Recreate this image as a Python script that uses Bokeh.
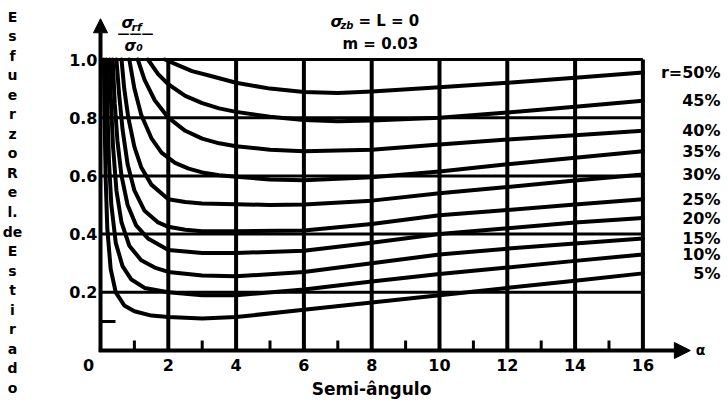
import math
from bokeh.plotting import figure
from bokeh.models import Range1d, Label, Arrow, NormalHead, ColumnDataSource
from bokeh.core.properties import value
from bokeh.embed import file_html
from bokeh.resources import INLINE

# ---------------- data ----------------
X_TICKS = [0, 2, 4, 6, 8, 10, 12, 14, 16]
X_TICK_LABELS = ["0", "2", "4", "6", "8", "10", "12", "14", "16"]
X_MINOR = [1, 3, 5, 7, 9, 11, 13, 15]
Y_TICKS = [0.2, 0.4, 0.6, 0.8, 1.0]
Y_TICK_LABELS = ["0.2", "0.4", "0.6", "0.8", "1.0"]
Y_MINOR = [0.1]

REDUCTIONS = ["5%", "10%", "15%", "20%", "25%", "30%", "35%", "40%", "45%", "r=50%"]

x_r05 = [0.1, 0.12, 0.15, 0.2, 0.3, 0.45, 0.7, 1.0, 1.5, 2, 3, 4, 6, 8, 10, 12, 14, 16]
y_r05 = [1.0, 0.8, 0.6, 0.42, 0.28, 0.2, 0.155, 0.135, 0.12, 0.115, 0.11, 0.115, 0.14, 0.165, 0.19, 0.215, 0.24, 0.265]

x_r10 = [0.18, 0.2, 0.25, 0.32, 0.45, 0.65, 0.9, 1.3, 2, 3, 4, 6, 8, 10, 12, 14, 16]
y_r10 = [1.0, 0.85, 0.65, 0.5, 0.37, 0.29, 0.245, 0.215, 0.2, 0.19, 0.19, 0.21, 0.237, 0.263, 0.285, 0.308, 0.33]

x_r15 = [0.27, 0.3, 0.37, 0.47, 0.62, 0.85, 1.2, 1.6, 2, 3, 4, 6, 8, 10, 12, 14, 16]
y_r15 = [1.0, 0.88, 0.7, 0.55, 0.44, 0.36, 0.31, 0.285, 0.27, 0.258, 0.255, 0.27, 0.3, 0.33, 0.35, 0.368, 0.385]

x_r20 = [0.36, 0.42, 0.5, 0.62, 0.8, 1.05, 1.4, 2, 3, 4, 6, 8, 10, 12, 14, 16]
y_r20 = [1.0, 0.85, 0.72, 0.6, 0.5, 0.43, 0.385, 0.345, 0.335, 0.335, 0.343, 0.37, 0.40, 0.42, 0.44, 0.455]

x_r25 = [0.47, 0.55, 0.65, 0.8, 1.0, 1.3, 1.7, 2, 2.5, 3, 4, 6, 8, 10, 12, 14, 16]
y_r25 = [1.0, 0.88, 0.76, 0.64, 0.55, 0.48, 0.44, 0.425, 0.415, 0.41, 0.41, 0.412, 0.435, 0.465, 0.483, 0.502, 0.52]

x_r30 = [0.62, 0.7, 0.82, 1.0, 1.2, 1.5, 2, 2.5, 3, 4, 5, 6, 8, 10, 12, 14, 16]
y_r30 = [1.0, 0.9, 0.8, 0.7, 0.63, 0.57, 0.52, 0.51, 0.505, 0.503, 0.5, 0.502, 0.515, 0.54, 0.562, 0.584, 0.605]

x_r35 = [0.85, 1.0, 1.2, 1.5, 1.8, 2.2, 2.6, 3, 3.5, 4, 5, 6, 8, 10, 12, 14, 16]
y_r35 = [1.0, 0.9, 0.81, 0.73, 0.68, 0.645, 0.625, 0.612, 0.602, 0.597, 0.588, 0.585, 0.595, 0.615, 0.64, 0.662, 0.685]

x_r40 = [1.1, 1.3, 1.6, 2, 2.5, 3, 3.5, 4, 5, 6, 8, 10, 12, 14, 16]
y_r40 = [1.0, 0.93, 0.86, 0.8, 0.755, 0.728, 0.712, 0.702, 0.69, 0.685, 0.69, 0.708, 0.725, 0.74, 0.755]

x_r45 = [1.4, 1.7, 2, 2.5, 3, 3.5, 4, 5, 6, 7, 8, 10, 12, 14, 16]
y_r45 = [1.0, 0.95, 0.915, 0.875, 0.85, 0.832, 0.82, 0.803, 0.792, 0.788, 0.79, 0.80, 0.818, 0.838, 0.858]

x_r50 = [1.9, 2.3, 2.7, 3.2, 4, 5, 6, 7, 8, 10, 12, 14, 16]
y_r50 = [1.0, 0.98, 0.96, 0.945, 0.92, 0.9, 0.888, 0.885, 0.89, 0.905, 0.92, 0.937, 0.955]

CURVES_X = [x_r05, x_r10, x_r15, x_r20, x_r25, x_r30, x_r35, x_r40, x_r45, x_r50]
CURVES_Y = [y_r05, y_r10, y_r15, y_r20, y_r25, y_r30, y_r35, y_r40, y_r45, y_r50]

Y_LABEL = "E\ns\nf\nu\ne\nr\nz\no\nR\ne\nl.\nde\nE\ns\nt\ni\nr\na\nd\no"
X_LABEL = "Semi-ângulo"

# ---------------- layout ----------------
FIG_W, FIG_H = 728, 404
PX_X = 33.9     # pixels per x unit
PX_Y = 291.0    # pixels per y unit
ORIG_X = 100    # canvas pixel of x = 0
ORIG_Y = 350    # canvas pixel of y = 0 (from top)
x_start = -ORIG_X / PX_X
x_end = x_start + FIG_W / PX_X
y_end = ORIG_Y / PX_Y
y_start = y_end - FIG_H / PX_Y

FONT = "DejaVu Sans"

p = figure(width=FIG_W, height=FIG_H, output_backend="svg", toolbar_location=None,
           x_range=Range1d(x_start, x_end), y_range=Range1d(y_start, y_end),
           min_border=0)
p.axis.visible = False
p.outline_line_color = None
p.xgrid.visible = False
p.ygrid.visible = False
p.background_fill_color = "white"

# grid (drawn only inside 0..16 x 0..1)
p.segment(x0=X_TICKS[1:], x1=X_TICKS[1:], y0=[0] * (len(X_TICKS) - 1),
          y1=[Y_TICKS[-1]] * (len(X_TICKS) - 1), line_color="black", line_width=4)
p.segment(x0=[0] * len(Y_TICKS), x1=[X_TICKS[-1]] * len(Y_TICKS), y0=Y_TICKS, y1=Y_TICKS,
          line_color="black", line_width=3)

# small ticks
p.ray(x=X_MINOR, y=[0] * len(X_MINOR), length=10, length_units="screen",
      angle=math.pi / 2, line_color="black", line_width=3)
p.ray(x=[0] * len(Y_MINOR), y=Y_MINOR, length=15, length_units="screen",
      angle=0, line_color="black", line_width=3)

# curves
p.multi_line(xs=CURVES_X, ys=CURVES_Y, line_color="black", line_width=4,
             line_join="round", line_cap="round")

# axis arrows
head = dict(fill_color="black", line_color="black")
p.add_layout(Arrow(end=NormalHead(size=14, **head), x_start=0, y_start=-0.005,
                   x_end=0, y_end=1.14, line_width=4, line_color="black"))
p.add_layout(Arrow(end=NormalHead(size=16, **head), x_start=-0.05, y_start=0,
                   x_end=17.4, y_end=0, line_width=4, line_color="black"))

tick_style = dict(text_font=value(FONT), text_font_style="bold", text_font_size="16px",
                  text_color="black")
# x tick labels ("0" sits left of the vertical axis line)
x_label_shift = [-12] + [0] * (len(X_TICKS) - 1)
p.text(x=X_TICKS, y=[0] * len(X_TICKS), text=X_TICK_LABELS, text_align="center",
       text_baseline="middle", x_offset=x_label_shift, y_offset=14, **tick_style)
# y tick labels
p.text(x=[0] * len(Y_TICKS), y=Y_TICKS, text=Y_TICK_LABELS, text_align="right",
       text_baseline="middle", x_offset=-3, **tick_style)

# curve labels at right
ends = [c[-1] for c in CURVES_Y]
label_x = (720 - ORIG_X) / PX_X
src = ColumnDataSource(dict(x=[label_x] * len(ends), y=ends, t=REDUCTIONS))
p.text(x="x", y="y", text="t", source=src, text_align="right", text_baseline="middle",
       text_font=value(FONT), text_font_style="bold", text_font_size="16px",
       text_color="black")


def lab(text, px, py, size, style="bold", align="left", baseline="middle", **kw):
    """Place a text annotation at a canvas-pixel position."""
    p.add_layout(Label(x=(px - ORIG_X) / PX_X, y=(ORIG_Y - py) / PX_Y, text=text,
                       text_font=FONT, text_font_size=f"{size}px",
                       text_font_style=style, text_align=align,
                       text_baseline=baseline, text_color="black", **kw))


# fraction sigma_rf / sigma_0
lab("σ", 121, 22, 16, "bold italic")
lab("rf", 131, 27, 11, "bold italic")
lab("———", 117, 33, 12)
lab("σ₀", 124, 45, 15, "bold italic")

# header texts
lab("σ", 330, 21, 16, "bold italic")
lab("zb", 340, 25, 10, "bold italic")
lab("= L = 0", 358, 20, 15)
lab("m = 0.03", 342, 43, 15)

# x variable symbol after the arrow
lab("α", 700, 349, 14, align="center")

# axis titles
lab(X_LABEL, 371, 388, 17, align="center")
lab(Y_LABEL, 12, 8, 14, align="center", baseline="top", text_line_height=1.222)

open("out.html", "w").write(file_html(p, INLINE))
